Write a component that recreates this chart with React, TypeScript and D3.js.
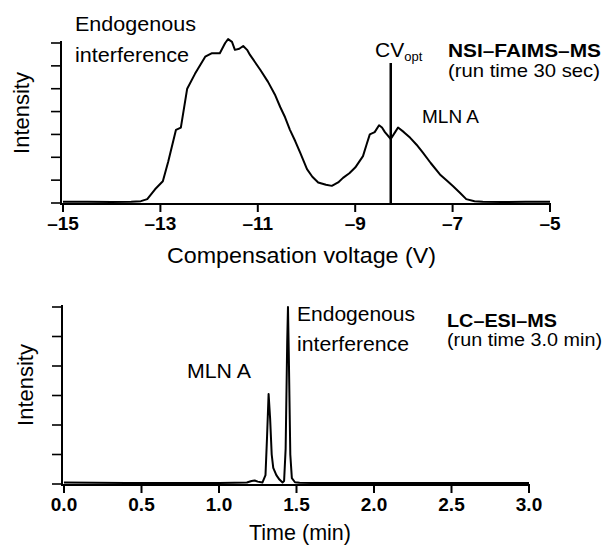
import React from "react";
import * as d3 from "d3";

// ---------- Data ----------
// Top panel: NSI-FAIMS-MS CV scan (compensation voltage V, intensity units)
const cvVoltage = [
  -15, -14.5, -14, -13.6, -13.4, -13.27, -13.11, -12.95, -12.84, -12.68, -12.58,
  -12.45, -12.29, -12.08, -11.95, -11.78, -11.67, -11.61, -11.53, -11.47, -11.38,
  -11.3, -11.22, -11.16, -10.95, -10.79, -10.65, -10.54, -10.44, -10.34, -10.23,
  -10.13, -9.99, -9.88, -9.76, -9.6, -9.48, -9.35, -9.25, -9.12, -9.0, -8.84,
  -8.76, -8.7, -8.6, -8.51, -8.45, -8.39, -8.27, -8.18, -8.12, -8.0, -7.87, -7.74,
  -7.61, -7.45, -7.26, -7.12, -7.0, -6.85, -6.72, -6.55, -6.38, -6.0, -5.5, -5.0,
];
const cvIntensity = [
  0.05, 0.05, 0.04, 0.05, 0.08, 0.17, 0.6, 0.95, 1.8, 3.2, 3.3,
  5.0, 5.65, 6.4, 6.55, 6.55, 7.0, 7.17, 7.05, 6.7, 6.75,
  6.87, 6.7, 6.48, 5.83, 5.3, 4.75, 4.2, 3.75, 3.2, 2.7,
  2.2, 1.48, 1.15, 0.9, 0.8, 0.75, 0.9, 1.1, 1.3, 1.55, 2.05,
  2.6, 3.0, 3.1, 3.4, 3.3, 3.1, 2.8, 3.1, 3.3, 3.1, 2.85, 2.55,
  2.2, 1.75, 1.25, 0.98, 0.75, 0.45, 0.17, 0.08, 0.05, 0.04, 0.05, 0.05,
];
const cvTicks = [-15, -13, -11, -9, -7, -5];
const cvOpt = -8.27;

// Bottom panel: LC-ESI-MS chromatogram (time min, intensity units)
const lcTime = [
  0, 0.2, 0.4, 0.6, 0.8, 1.0, 1.1, 1.18, 1.21, 1.23, 1.25, 1.28, 1.3, 1.31, 1.32,
  1.33, 1.34, 1.35, 1.37, 1.39, 1.41, 1.42, 1.43, 1.44, 1.445, 1.45, 1.46, 1.47,
  1.49, 1.52, 1.6, 2.0, 2.5, 3.0,
];
const lcIntensity = [
  0.05, 0.04, 0.03, 0.03, 0.03, 0.03, 0.04, 0.05, 0.1, 0.12, 0.08, 0.05, 0.3, 1.6, 3.05,
  2.2, 1.0, 0.55, 0.3, 0.15, 0.05, 0.1, 1.2, 4.8, 6.0, 4.5, 1.0, 0.2,
  0.06, 0.04, 0.03, 0.03, 0.03, 0.03,
];
const lcTicks = [0, 0.5, 1.0, 1.5, 2.0, 2.5, 3.0];

const FONT = "'Liberation Sans', Arial, Helvetica, sans-serif";

type PanelProps = {
  xDomain: [number, number];
  xRange: [number, number];
  yMax: number;
  yTicks: number;
  yTop: number;
  yBottom: number;
  xs: number[];
  ys: number[];
  xTicks: number[];
  fmt: (v: number) => string;
  children?: (x: d3.ScaleLinear<number, number>, y: d3.ScaleLinear<number, number>) => React.ReactNode;
};

function Panel({ xDomain, xRange, yMax, yTicks, yTop, yBottom, xs, ys, xTicks, fmt, children }: PanelProps) {
  const x = d3.scaleLinear().domain(xDomain).range(xRange);
  const y = d3.scaleLinear().domain([0, yMax]).range([yBottom, yTop]);
  const pts = xs.map((v, i) => [v, ys[i]] as [number, number]);
  const line = d3
    .line<[number, number]>()
    .x((d) => x(d[0]))
    .y((d) => y(d[1]));
  const axisX = xRange[0] - 2;
  const yt = d3.range(0, yTicks + 1);
  return (
    <g>
      {/* y axis */}
      <line x1={axisX} x2={axisX} y1={y(0) + 1} y2={yTop - 2} stroke="#000" strokeWidth={2} />
      {yt.map((t) => (
        <line key={t} x1={axisX - 10} x2={axisX} y1={y(t)} y2={y(t)} stroke="#000" strokeWidth={1.6} />
      ))}
      {/* x axis */}
      <line x1={axisX - 1} x2={xRange[1] + 1} y1={y(0) + 1} y2={y(0) + 1} stroke="#000" strokeWidth={2} />
      {xTicks.map((t) => (
        <g key={t}>
          <line x1={x(t)} x2={x(t)} y1={y(0)} y2={y(0) + 9} stroke="#000" strokeWidth={2} />
          <text
            x={x(t)}
            y={y(0) + 27}
            textAnchor="middle"
            fontFamily={FONT}
            fontWeight="bold"
            fontSize={19}
          >
            {fmt(t)}
          </text>
        </g>
      ))}
      <path d={line(pts) || ""} fill="none" stroke="#000" strokeWidth={2} strokeLinejoin="round" />
      {children && children(x, y)}
    </g>
  );
}

export default function App() {
  const minus = (v: number) => (v < 0 ? "\u2013" + Math.abs(v) : String(v));
  return (
    <div style={{ position: "absolute", left: 0, top: 0 }}>
      <svg width={606} height={545} style={{ display: "block", background: "#fff" }}>
        {/* Top panel */}
        <Panel
          xDomain={[-15, -5]}
          xRange={[63, 550]}
          yMax={7}
          yTicks={7}
          yTop={43}
          yBottom={203}
          xs={cvVoltage}
          ys={cvIntensity}
          xTicks={cvTicks}
          fmt={minus}
        >
          {(x, y) => (
            <line x1={x(cvOpt)} x2={x(cvOpt)} y1={63} y2={y(0)} stroke="#000" strokeWidth={2.5} />
          )}
        </Panel>
        <text
          transform="translate(29,113) rotate(-90)"
          textAnchor="middle"
          fontFamily={FONT}
          fontSize={22}
        >
          Intensity
        </text>
        <text x={167} y={263} fontFamily={FONT} fontSize={22.5} textLength={269} lengthAdjust="spacingAndGlyphs">
          Compensation voltage (V)
        </text>
        <text x={75} y={31} fontFamily={FONT} fontSize={21} textLength={121} lengthAdjust="spacingAndGlyphs">Endogenous</text>
        <text x={75} y={62} fontFamily={FONT} fontSize={21} textLength={114} lengthAdjust="spacingAndGlyphs">interference</text>
        <text x={375} y={57} fontFamily={FONT} fontSize={21}>
          CV
          <tspan fontSize={13} dy={4}>opt</tspan>
        </text>
        <text x={448} y={57} fontFamily={FONT} fontSize={18.5} fontWeight="bold" textLength={153} lengthAdjust="spacingAndGlyphs">
          NSI–FAIMS–MS
        </text>
        <text x={448} y={77} fontFamily={FONT} fontSize={18.5} textLength={152} lengthAdjust="spacingAndGlyphs">(run time 30 sec)</text>
        <text x={422} y={123} fontFamily={FONT} fontSize={19}>MLN A</text>

        {/* Bottom panel */}
        <Panel
          xDomain={[0, 3]}
          xRange={[64, 529]}
          yMax={6}
          yTicks={6}
          yTop={307}
          yBottom={484}
          xs={lcTime}
          ys={lcIntensity}
          xTicks={lcTicks}
          fmt={(v) => v.toFixed(1)}
        />
        <text
          transform="translate(33,385) rotate(-90)"
          textAnchor="middle"
          fontFamily={FONT}
          fontSize={22}
        >
          Intensity
        </text>
        <text x={249} y={540} fontFamily={FONT} fontSize={22} textLength={102} lengthAdjust="spacingAndGlyphs">
          Time (min)
        </text>
        <text x={187} y={378} fontFamily={FONT} fontSize={20} textLength={64} lengthAdjust="spacingAndGlyphs">MLN A</text>
        <text x={297} y={321} fontFamily={FONT} fontSize={20} textLength={118} lengthAdjust="spacingAndGlyphs">Endogenous</text>
        <text x={297} y={351} fontFamily={FONT} fontSize={20} textLength={112} lengthAdjust="spacingAndGlyphs">interference</text>
        <text x={447} y={327} fontFamily={FONT} fontSize={18} fontWeight="bold" textLength={110} lengthAdjust="spacingAndGlyphs">
          LC–ESI–MS
        </text>
        <text x={447} y={346} fontFamily={FONT} fontSize={17.5} textLength={155} lengthAdjust="spacingAndGlyphs">(run time 3.0 min)</text>
      </svg>
    </div>
  );
}
